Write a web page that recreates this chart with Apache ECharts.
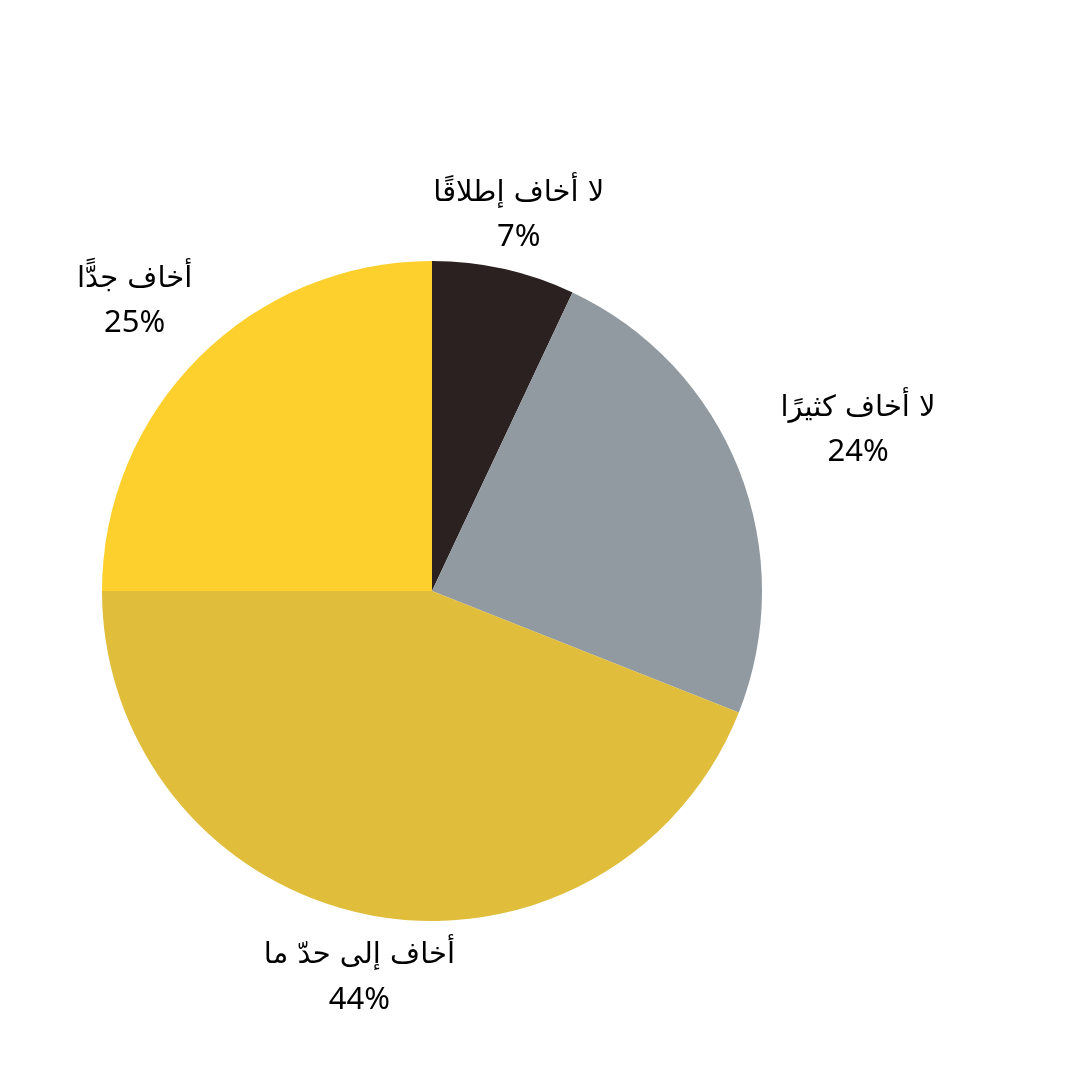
<!DOCTYPE html>
<html>
<head>
<meta charset="utf-8">
<script src="https://cdn.jsdelivr.net/npm/echarts@6/dist/echarts.min.js"></script>
<style>
    html, body { margin: 0; padding: 0; background: #fff; }
    #chart { width: 1080px; height: 1080px; }
</style>
</head>
<body>
<div id="chart"></div>
<script type="text/javascript">
    // 数据
    var categories = ['لا أخاف إطلاقًا', 'لا أخاف كثيرًا', 'أخاف إلى حدّ ما', 'أخاف جدًّا'];
    var values = [7, 24, 44, 25];
    var colors = ['#2a2120', '#919aa1', '#e0bd3b', '#fdd02e'];

    var myChart = echarts.init(document.getElementById('chart'));

    // 标签偏移 (按扇区)
    var labelShift = [[0, 12], [56, -15], [2, -5], [-16, -9]];

    var pieData = categories.map(function (name, i) {
        return { name: name, value: values[i], itemStyle: { color: colors[i] } };
    });
    var ringData = categories.map(function (name, i) {
        return {
            name: name,
            value: values[i],
            label: { offset: labelShift[i] }
        };
    });

    var option = {
        backgroundColor: '#fff',
        animation: false,
        series: [{
            type: 'pie',
            center: [432, 591],
            radius: [0, 330],
            startAngle: 90,
            clockwise: true,
            silent: true,
            label: { show: false },
            labelLine: { show: false },
            itemStyle: { borderWidth: 0 },
            data: pieData
        }, {
            // 透明外环, 仅用于放置标签
            type: 'pie',
            center: [432, 591],
            radius: [330, 460],
            startAngle: 90,
            clockwise: true,
            silent: true,
            itemStyle: { color: 'rgba(0,0,0,0)' },
            labelLine: { show: false },
            label: {
                show: true,
                position: 'inside',
                align: 'center',
                formatter: function (p) {
                    return '{n|' + p.name + '}\n{v|' + p.value + '%}';
                },
                rich: {
                    n: { fontFamily: 'DejaVu Sans', fontSize: 29, color: '#000', lineHeight: 46, align: 'center' },
                    v: { fontFamily: 'Noto Sans', fontSize: 31, color: '#000', lineHeight: 42, align: 'center' }
                }
            },
            data: ringData
        }]
    };
    myChart.setOption(option);
</script>
</body>
</html>
